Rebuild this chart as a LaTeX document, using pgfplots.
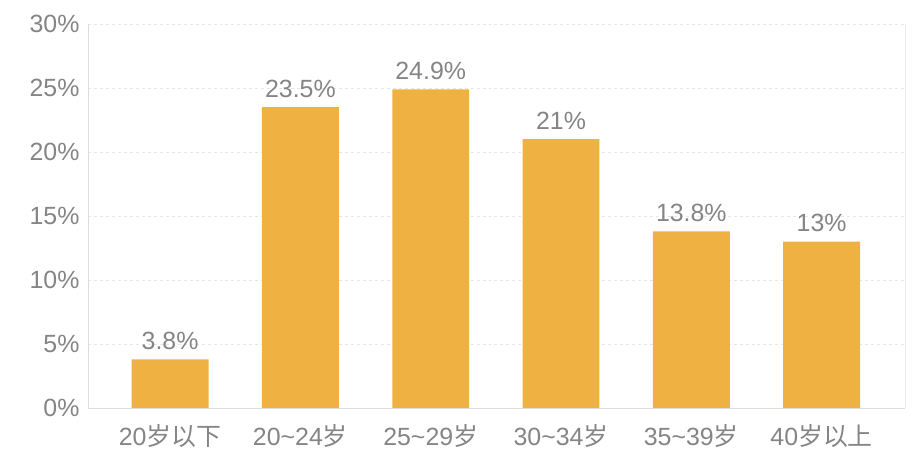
\documentclass[border=0pt]{standalone}
\usepackage{pgfplots}
\pgfplotsset{compat=1.18}
\usepackage{fontspec}
\setmainfont{Liberation Sans}
\newfontfamily\cjk{Noto Sans CJK SC}
\definecolor{barc}{HTML}{EFB142}
\definecolor{labc}{HTML}{858585}
\definecolor{gridc}{HTML}{E6E6E6}
\definecolor{axc}{HTML}{DDDDDD}
\begin{document}
\begin{tikzpicture}
\begin{axis}[
  scale only axis,
  width=817bp, height=384bp,
  xmin=-0.63, xmax=5.64,
  ymin=0, ymax=30,
  xtick={0,1,2,3,4,5},
  xticklabels={20{\cjk 岁以下},20\textasciitilde24{\cjk 岁},25\textasciitilde29{\cjk 岁},30\textasciitilde34{\cjk 岁},35\textasciitilde39{\cjk 岁},40{\cjk 岁以上}},
  ytick={0,5,10,15,20,25,30},
  yticklabel={\pgfmathprintnumber{\tick}\%},
  /pgf/number format/assume math mode=true,
  tick style={draw=none},
  ymajorgrids,
  grid style={gridc, dashed, line width=0.8pt},
  axis line style={draw=none},
  ticklabel style={font=\fontsize{25}{28}\selectfont, text=labc},
  yticklabel style={xshift=-5bp},
  xticklabel style={yshift=-13bp},
  bar width=0.59,
  nodes near coords={\pgfmathprintnumber{\pgfplotspointmeta}\%},
  every node near coord/.append style={font=\fontsize{25}{28}\selectfont, text=labc, yshift=6bp},
  clip=false,
]
\addplot[ybar, fill=barc, draw=none] coordinates {(0,3.8) (1,23.5) (2,24.9) (3,21) (4,13.8) (5,13)};
\draw[axc, line width=1pt] (rel axis cs:0,1) -- (rel axis cs:0,0) -- (rel axis cs:1,0);
\draw[axc!60, line width=0.8pt] (rel axis cs:1,0) -- (rel axis cs:1,1);
\end{axis}
\pgfresetboundingbox
\path[use as bounding box] (current axis.south west) ++(-88bp,-56bp) rectangle ([shift={(9bp,24bp)}]current axis.north east);
\end{tikzpicture}
\end{document}
